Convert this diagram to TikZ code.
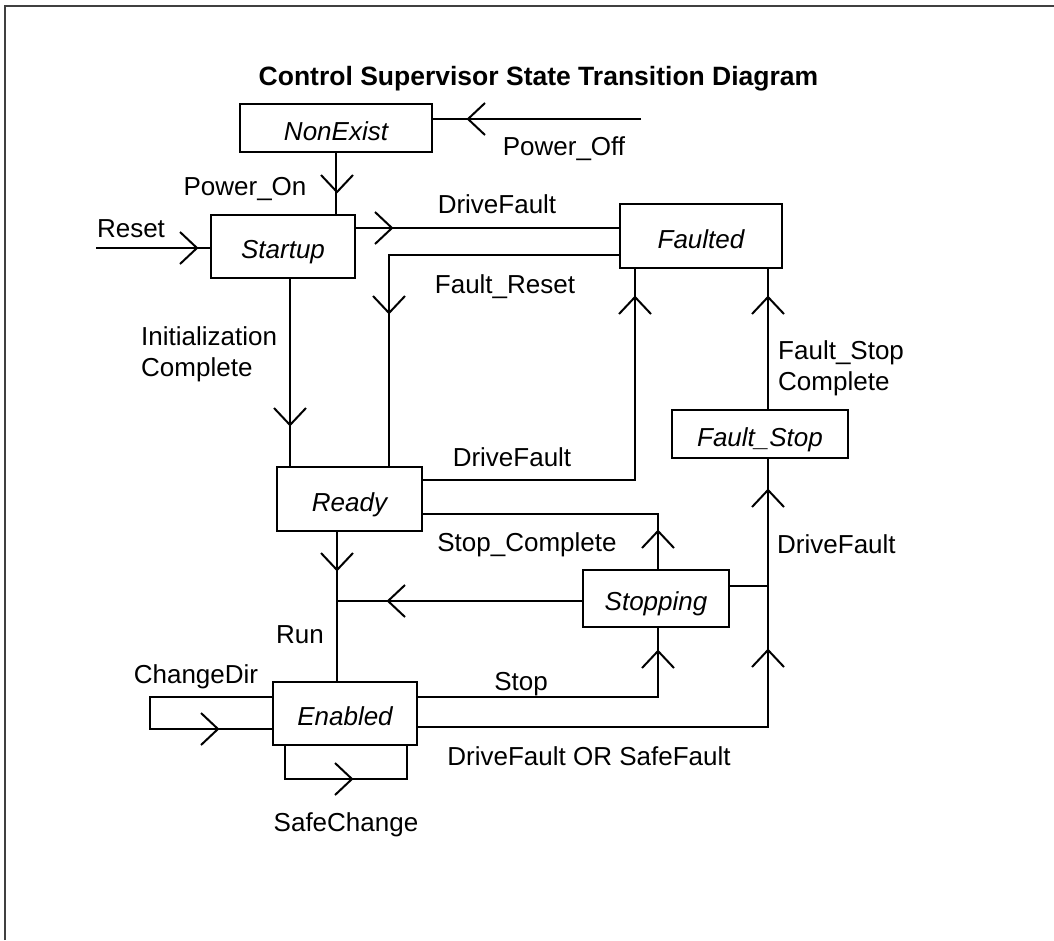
\documentclass[tikz,border=0pt]{standalone}
\usepackage{fontspec}
\setmainfont{Liberation Sans}
\newcommand{\vtip}[2]{\draw[barb,shift={(#1)},rotate=#2] (-17,-16) -- (0,0) -- (-17,16);}
\begin{document}
\begin{tikzpicture}[x=1pt,y=-1pt,
  every node/.style={font=\fontsize{26pt}{31pt}\selectfont, inner sep=0pt},
  statebox/.style={draw, line width=2pt, font=\fontsize{26pt}{31pt}\selectfont\itshape,
    text height=24.6pt, text depth=0pt, inner sep=0pt},
  conn/.style={line width=2pt},
  barb/.style={line width=2pt},
  lbl/.style={anchor=base},
  frameline/.style={line width=1.5pt, black!75}]
\useasboundingbox (0,0) rectangle (1054,940);
\fill[white] (0,0) rectangle (1054,940);
\draw[frameline] (5,940) -- (5,6) -- (1054,6);

% states
\node[statebox, minimum width=192pt, minimum height=48pt] (nonexist) at (336,128) {NonExist};
\node[statebox, minimum width=144pt, minimum height=63pt] (startup) at (283,246.5) {Startup};
\node[statebox, minimum width=162pt, minimum height=64pt] (faulted) at (701,236) {Faulted};
\node[statebox, minimum width=145pt, minimum height=64pt] (ready) at (349.5,499) {Ready};
\node[statebox, minimum width=176pt, minimum height=48pt] (faultstop) at (760,434) {Fault\_Stop};
\node[statebox, minimum width=146pt, minimum height=57pt] (stopping) at (656,598.5) {Stopping};
\node[statebox, minimum width=144pt, minimum height=63pt] (enabled) at (345,713.5) {Enabled};

% free ends and junctions
\coordinate (poff) at (641,119);
\coordinate (rst) at (96,248);
\coordinate (junc) at (337,601);
\coordinate (dfjunc) at (768,586);

% connectors
\draw[conn] (poff) -- (poff -| nonexist.east);
\draw[conn] (nonexist.south) -- (nonexist.south |- startup.north);
\draw[conn] (rst) -- (rst -| startup.west);
\draw[conn] (startup.east |- 0,228) -- (faulted.west |- 0,228);
\draw[conn] (faulted.west |- 0,255) -| (389,0 |- ready.north);
\draw[conn] (290,0 |- startup.south) -- (290,0 |- ready.north);
\draw[conn] (ready.east |- 0,480) -| (635,0 |- faulted.south);
\draw[conn] (768,0 |- faultstop.north) -- (768,0 |- faulted.south);
\draw[conn] (658,0 |- stopping.north) |- (ready.east |- 0,514);
\draw[conn] (337,0 |- ready.south) -- (337,0 |- enabled.north);
\draw[conn] (stopping.west |- junc) -- (junc);
\draw[conn] (enabled.east |- 0,697) -| (658,0 |- stopping.south);
\draw[conn] (enabled.east |- 0,727) -| (768,0 |- faultstop.south);
\draw[conn] (stopping.east |- dfjunc) -- (dfjunc);
\draw[conn] (enabled.west |- 0,697) -- (150,697) -- (150,729) -- (enabled.west |- 0,729);
\draw[conn] (285,0 |- enabled.south) -- (285,779) -- (407,779) -- (407,0 |- enabled.south);

% arrowheads
\vtip{468,119}{180}
\vtip{337,192}{-90}
\vtip{197,248}{0}
\vtip{392,228}{0}
\vtip{389,313}{-90}
\vtip{290,425}{-90}
\vtip{635,297}{90}
\vtip{768,297}{90}
\vtip{658,531}{90}
\vtip{337,570}{-90}
\vtip{388,601}{180}
\vtip{658,651}{90}
\vtip{768,650}{90}
\vtip{768,490}{90}
\vtip{218,729}{0}
\vtip{352,779}{0}

% labels
\node[lbl, font=\bfseries\fontsize{26.5pt}{31pt}\selectfont] (title) at (538.5,85) {Control Supervisor State Transition Diagram};
\node[lbl] (tPowerOff) at (564,155) {Power\_Off};
\node[lbl] (tPowerOn) at (245,195) {Power\_On};
\node[lbl] (tReset) at (131,237) {Reset};
\node[lbl] (tDF1) at (497,213) {DriveFault};
\node[lbl] (tFR) at (505,293) {Fault\_Reset};
\node[anchor=west, align=left] (tInit) at (141,354.75) {Initialization\\Complete};
\node[anchor=west, align=left] (tFSC) at (778,368.75) {Fault\_Stop\\Complete};
\node[lbl] (tDF2) at (512,466) {DriveFault};
\node[lbl] (tSC) at (527,551) {Stop\_Complete};
\node[anchor=base west] (tDF3) at (777,553) {DriveFault};
\node[lbl] (tRun) at (300,643) {Run};
\node[lbl] (tStop) at (521,690) {Stop};
\node[lbl] (tDFSF) at (589,765) {DriveFault OR SafeFault};
\node[lbl] (tCD) at (196,683) {ChangeDir};
\node[lbl] (tSCh) at (346,831) {SafeChange};
\end{tikzpicture}
\end{document}
